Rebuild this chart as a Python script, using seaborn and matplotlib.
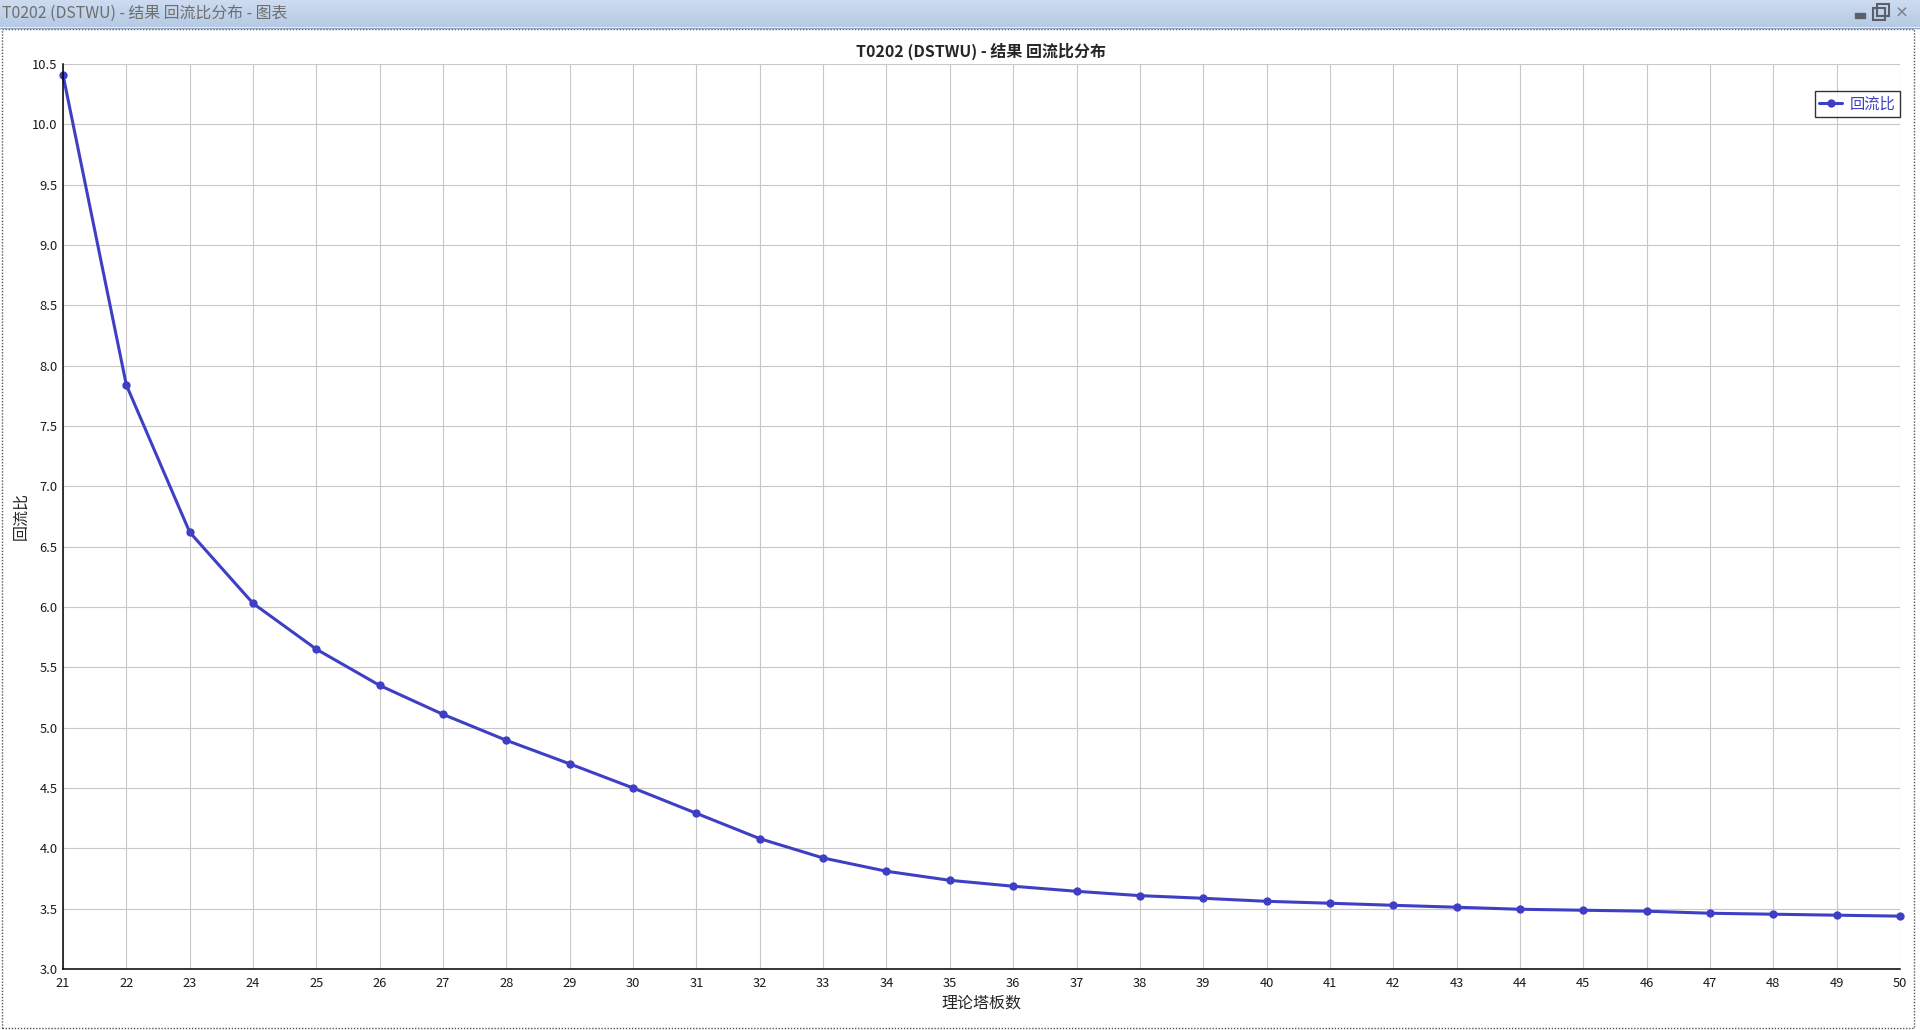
import numpy as np
import pandas as pd
import matplotlib
matplotlib.use("Agg")
import matplotlib.pyplot as plt
import seaborn as sns
from matplotlib.patches import Rectangle
from matplotlib.ticker import FormatStrFormatter

# ── data ──────────────────────────────────────────────────────
stages = list(range(21, 51))
reflux = [10.41, 7.84, 6.62, 6.03, 5.65, 5.35, 5.11, 4.895, 4.70, 4.50,
          4.29, 4.08, 3.92, 3.81, 3.735, 3.686, 3.644, 3.608, 3.586, 3.561,
          3.545, 3.528, 3.512, 3.495, 3.487, 3.479, 3.462, 3.454, 3.446, 3.438]
y_ticks = [3.0 + 0.5 * i for i in range(16)]

window_title = "T0202 (DSTWU) - 结果 回流比分布 - 图表"
chart_title = "T0202 (DSTWU) - 结果 回流比分布"
x_label = "理论塔板数"
y_label = "回流比"
series_name = "回流比"

df = pd.DataFrame({"stage": stages, series_name: reflux})

# ── style ─────────────────────────────────────────────────────
sns.set_theme(style="whitegrid")
plt.rcParams["font.family"] = ["Noto Sans CJK SC", "DejaVu Sans"]
plt.rcParams["axes.unicode_minus"] = False

LINE = "#3f3fc6"
W, H = 1920, 1030

fig = plt.figure(figsize=(W / 100, H / 100), dpi=100)
fig.patch.set_facecolor("white")

# window title bar
tb = fig.add_axes([0, 1 - 27 / H, 1, 27 / H])
grad = np.linspace(0, 1, 50).reshape(-1, 1)
tb.imshow(grad, aspect="auto", extent=[0, 1, 0, 1],
          cmap=matplotlib.colors.LinearSegmentedColormap.from_list(
              "tb", ["#cddcf0", "#b6cae4"]))
tb.set_axis_off()
tb.text(0.001, 0.5, window_title, va="center", ha="left",
        fontsize=11.4, color="#6e6e6e")
# little window buttons
tb.add_patch(Rectangle((1855 / W, 0.35), 10 / W, 0.15, color="#5a5f6a"))
tb.add_patch(Rectangle((1873 / W, 0.25), 12 / W, 0.45, fill=False, ec="#5a5f6a", lw=1.5))
tb.add_patch(Rectangle((1877 / W, 0.42), 12 / W, 0.45, fill=False, ec="#5a5f6a", lw=1.5))
tb.text(1902 / W, 0.5, "×", va="center", ha="center", fontsize=10, color="#7a7f8a",
        fontweight="bold")
fig.add_artist(plt.Line2D([0, 1], [1 - 27.5 / H, 1 - 27.5 / H],
                          transform=fig.transFigure, color="#8fa3be", lw=1))

# dotted focus border
fig.add_artist(Rectangle((1.5 / W, 2 / H), (W - 8) / W, (H - 31) / H,
                         transform=fig.transFigure, fill=False,
                         ec="#555555", lw=1, ls=(0, (1, 1.2))))

# ── chart ─────────────────────────────────────────────────────
ax = fig.add_axes([63 / W, 61 / H, (1900 - 63) / W, 905 / H])
ax.set_facecolor("white")

sns.lineplot(data=df, x="stage", y=series_name, ax=ax, color=LINE,
             linewidth=2.2, marker="o", markersize=6, markeredgewidth=0,
             label=series_name, clip_on=False)

ax.set_xlim(21, 50)
ax.set_ylim(3.0, 10.5)
ax.set_xticks(stages)
ax.set_yticks(y_ticks)
ax.yaxis.set_major_formatter(FormatStrFormatter("%.1f"))

ax.grid(True, color="#c8c8c8", linewidth=0.8)
for s in ["top", "right"]:
    ax.spines[s].set_visible(False)
for s in ["left", "bottom"]:
    ax.spines[s].set_visible(True)
    ax.spines[s].set_color("black")
    ax.spines[s].set_linewidth(1.1)

ax.tick_params(axis="both", direction="in", length=4.5, width=1, color="black",
               labelsize=9.3, labelcolor="#1a1a1a", pad=6)
ax.tick_params(axis="y", pad=4)

ax.set_title(chart_title, fontsize=11.5, fontweight="bold", pad=5.5)
ax.set_xlabel(x_label, fontsize=11.5, labelpad=3)
ax.set_ylabel(y_label, fontsize=11.5, labelpad=1.5)

leg = ax.legend(loc="upper right", bbox_to_anchor=(1.0, 1 - 27 / 905),
                borderaxespad=0, frameon=True, fancybox=False, fontsize=11,
                handlelength=1.5, handletextpad=0.5, borderpad=0.3)
leg.get_frame().set_edgecolor("black")
leg.get_frame().set_linewidth(1.0)
for t in leg.get_texts():
    t.set_color(LINE)

fig.savefig("out.png", dpi=100)
